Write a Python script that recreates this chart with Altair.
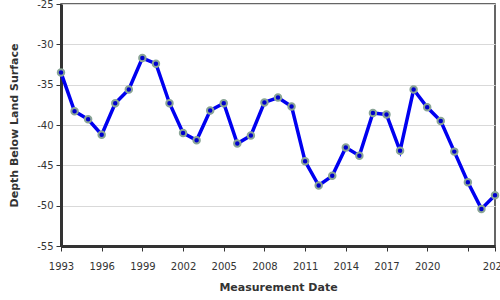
import altair as alt
import pandas as pd

years = list(range(1993, 2026))
depth = [-33.5, -38.3, -39.3, -41.2, -37.3, -35.6, -31.7, -32.4, -37.3, -41.0,
         -41.9, -38.2, -37.3, -42.3, -41.3, -37.2, -36.6, -37.7, -44.5, -47.5,
         -46.3, -42.8, -43.8, -38.5, -38.7, -43.2, -35.6, -37.8, -39.5, -43.3,
         -47.1, -50.4, -48.7]
x_ticks = [1993, 1996, 1999, 2002, 2005, 2008, 2011, 2014, 2017, 2020, 2023, 2025]
y_ticks = [-55, -50, -45, -40, -35, -30, -25]

df = pd.DataFrame({"year": years, "depth": depth})

x = alt.X("year:Q", title="Measurement Date",
          scale=alt.Scale(domain=[1993, 2025], nice=False, zero=False),
          axis=alt.Axis(values=x_ticks, format="d", grid=False,
                        labelExpr="datum.value == 2023 ? '' : datum.label",
                        labelFlush=False, labelOverlap=False, labelPadding=10,
                        titlePadding=10))
y = alt.Y("depth:Q", title="Depth Below Land Surface",
          scale=alt.Scale(domain=[-55, -25], nice=False, zero=False),
          axis=alt.Axis(values=y_ticks, grid=True, labelExpr="'' + datum.value",
                        labelPadding=3, titlePadding=17))

base = alt.Chart(df)
line = base.mark_line(color="#0000f0", strokeWidth=3.5).encode(x=x, y=y)
pts = base.mark_point(filled=True, fill="#0000cc", stroke="#8aa596",
                      strokeWidth=2, size=42, opacity=1).encode(x=x, y=y)

chart = (line + pts).properties(
    width=434, height=242,
    autosize=alt.AutoSizeParams(type="none"),
    padding={"left": 61, "top": 4, "right": 5, "bottom": 54},
).configure_view(
    stroke="#333333", strokeWidth=1.5
).configure_axis(
    domainColor="#333333", domainWidth=3, tickColor="#333333", tickSize=5,
    tickWidth=1, labelFont="DejaVu Sans", labelFontSize=10, labelColor="#333333",
    titleFont="DejaVu Sans", titleFontSize=11, titleFontWeight="bold",
    titleColor="#333333", gridColor="#d9d9d9", gridWidth=1
)

chart.save("out.html", embed_options={"renderer": "svg", "actions": False})
